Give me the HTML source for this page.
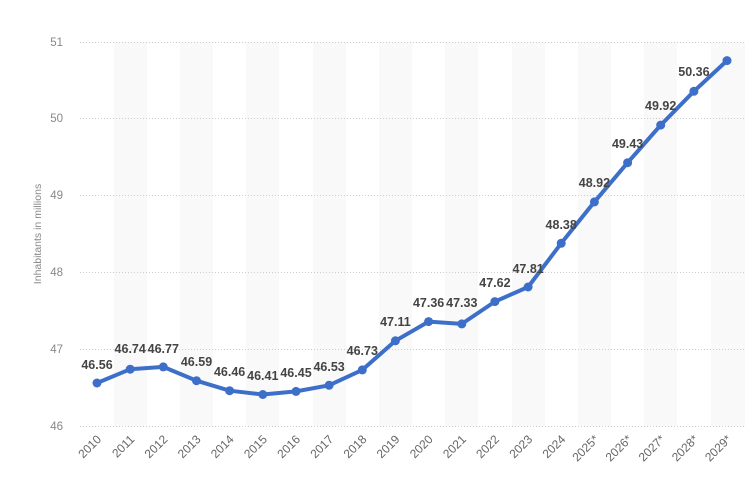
<!DOCTYPE html><html><head><style>body{margin:0;background:#fff}svg{display:block;font-family:"Liberation Sans",sans-serif}</style></head><body>
<svg width="750" height="487" xmlns="http://www.w3.org/2000/svg">
<g fill="#f9f9f9">
<rect x="114" y="42" width="33" height="384"/><rect x="180" y="42" width="33" height="384"/><rect x="246" y="42" width="33" height="384"/><rect x="313" y="42" width="33" height="384"/><rect x="379" y="42" width="33" height="384"/><rect x="445" y="42" width="33" height="384"/><rect x="512" y="42" width="33" height="384"/><rect x="578" y="42" width="33" height="384"/><rect x="644" y="42" width="33" height="384"/><rect x="711" y="42" width="34" height="384"/>
</g>
<g stroke="#ccc" stroke-dasharray="1,2" stroke-width="1">
<line x1="80" x2="745" y1="42.5" y2="42.5"/><line x1="80" x2="745" y1="118.5" y2="118.5"/><line x1="80" x2="745" y1="195.5" y2="195.5"/><line x1="80" x2="745" y1="272.5" y2="272.5"/><line x1="80" x2="745" y1="349.5" y2="349.5"/><line x1="80" x2="745" y1="426.5" y2="426.5"/>
</g>
<g fill="#888" font-size="11.5" text-anchor="end">
<text x="63" y="46">51</text><text x="63" y="122">50</text><text x="63" y="199">49</text><text x="63" y="276">48</text><text x="63" y="353">47</text><text x="63" y="430">46</text>
</g>
<text transform="translate(41,234) rotate(-90)" fill="#888" font-size="10.5" text-anchor="middle">Inhabitants in millions</text>
<polyline fill="none" stroke="#3d6fc9" stroke-width="4" stroke-linejoin="round" points="97,383 130.2,369.2 163.3,366.9 196.5,380.7 229.6,390.7 262.8,394.5 296,391.4 329.1,385.3 362.3,369.9 395.4,340.8 428.6,321.6 461.8,323.9 494.9,301.6 528.1,287 561.2,243.3 594.4,201.9 627.6,162.7 660.7,125.1 693.9,91.3 727,60.6"/>
<g fill="#3d6fc9">
<circle cx="97" cy="383" r="4.5"/><circle cx="130.2" cy="369.2" r="4.5"/><circle cx="163.3" cy="366.9" r="4.5"/><circle cx="196.5" cy="380.7" r="4.5"/><circle cx="229.6" cy="390.7" r="4.5"/><circle cx="262.8" cy="394.5" r="4.5"/><circle cx="296" cy="391.4" r="4.5"/><circle cx="329.1" cy="385.3" r="4.5"/><circle cx="362.3" cy="369.9" r="4.5"/><circle cx="395.4" cy="340.8" r="4.5"/><circle cx="428.6" cy="321.6" r="4.5"/><circle cx="461.8" cy="323.9" r="4.5"/><circle cx="494.9" cy="301.6" r="4.5"/><circle cx="528.1" cy="287" r="4.5"/><circle cx="561.2" cy="243.3" r="4.5"/><circle cx="594.4" cy="201.9" r="4.5"/><circle cx="627.6" cy="162.7" r="4.5"/><circle cx="660.7" cy="125.1" r="4.5"/><circle cx="693.9" cy="91.3" r="4.5"/><circle cx="727" cy="60.6" r="4.5"/>
</g>
<g fill="#444" font-size="12.5" font-weight="bold" text-anchor="middle">
<text x="97" y="369">46.56</text><text x="130.2" y="353">46.74</text><text x="163.3" y="353">46.77</text><text x="196.5" y="366">46.59</text><text x="229.6" y="376">46.46</text><text x="262.8" y="380">46.41</text><text x="296" y="377">46.45</text><text x="329.1" y="371">46.53</text><text x="362.3" y="355">46.73</text><text x="395.4" y="326">47.11</text><text x="428.6" y="307">47.36</text><text x="461.8" y="307">47.33</text><text x="494.9" y="287">47.62</text><text x="528.1" y="273">47.81</text><text x="561.2" y="229">48.38</text><text x="594.4" y="187">48.92</text><text x="627.6" y="148">49.43</text><text x="660.7" y="110">49.92</text><text x="693.9" y="76">50.36</text>
</g>
<g fill="#666" font-size="12" text-anchor="end">
<text transform="translate(102,440) rotate(-45)">2010</text><text transform="translate(135.2,440) rotate(-45)">2011</text><text transform="translate(168.3,440) rotate(-45)">2012</text><text transform="translate(201.5,440) rotate(-45)">2013</text><text transform="translate(234.6,440) rotate(-45)">2014</text><text transform="translate(267.8,440) rotate(-45)">2015</text><text transform="translate(301,440) rotate(-45)">2016</text><text transform="translate(334.1,440) rotate(-45)">2017</text><text transform="translate(367.3,440) rotate(-45)">2018</text><text transform="translate(400.4,440) rotate(-45)">2019</text><text transform="translate(433.6,440) rotate(-45)">2020</text><text transform="translate(466.8,440) rotate(-45)">2021</text><text transform="translate(499.9,440) rotate(-45)">2022</text><text transform="translate(533.1,440) rotate(-45)">2023</text><text transform="translate(566.2,440) rotate(-45)">2024</text><text transform="translate(599.4,440) rotate(-45)">2025*</text><text transform="translate(632.6,440) rotate(-45)">2026*</text><text transform="translate(665.7,440) rotate(-45)">2027*</text><text transform="translate(698.9,440) rotate(-45)">2028*</text><text transform="translate(732,440) rotate(-45)">2029*</text>
</g>
</svg></body></html>
